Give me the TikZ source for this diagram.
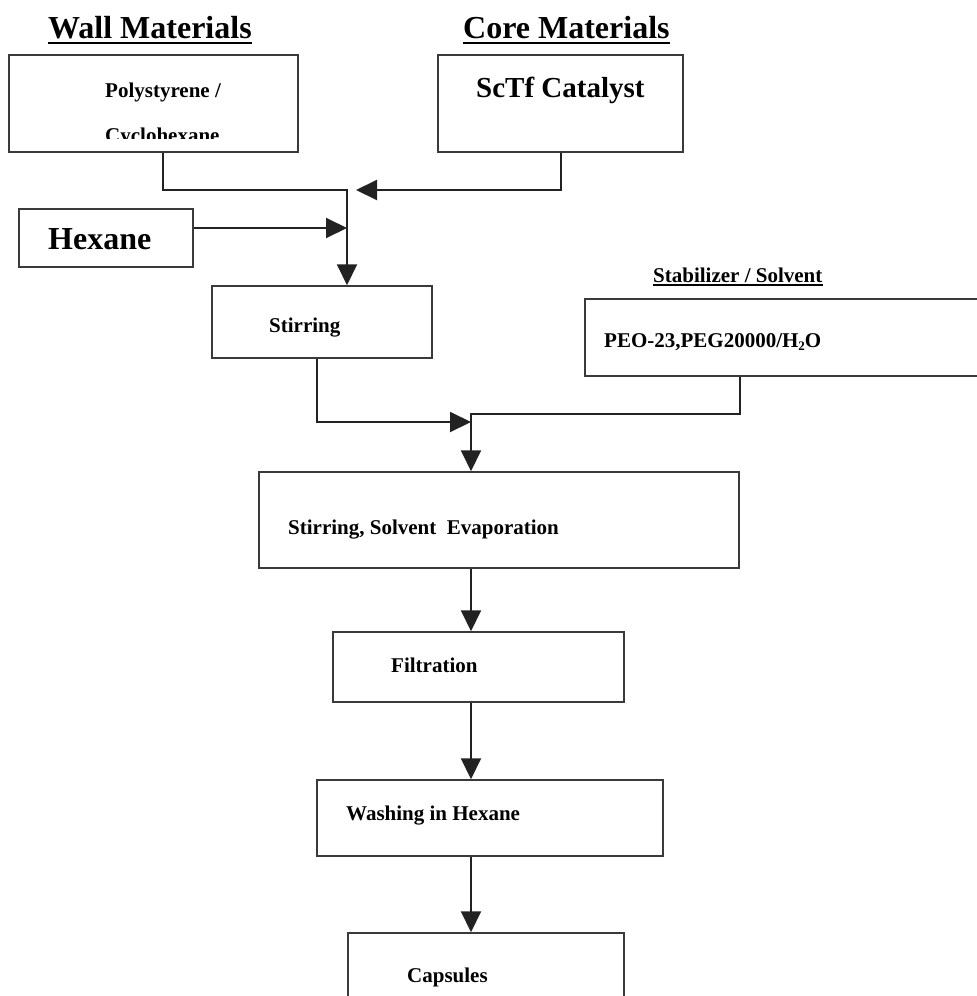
\documentclass[tikz,border=0pt]{standalone}
\usepackage{fontspec}
\setmainfont{Liberation Serif}
\usetikzlibrary{arrows.meta,calc}
\definecolor{boxgray}{HTML}{3A3A3A}
\definecolor{linegray}{HTML}{222222}
\begin{document}
\begin{tikzpicture}[x=1pt,y=-1pt,
  box/.style={draw=boxgray, line width=1.5pt, rectangle, inner sep=0pt},
  lbl/.style={inner sep=0pt, anchor=base west, font=\bfseries\fontsize{21}{25}\selectfont},
  ttl/.style={inner sep=0pt, anchor=base west, font=\bfseries\fontsize{32}{38}\selectfont},
  conn/.style={draw=linegray, line width=2pt},
  arr/.style={conn, -{Triangle[length=21pt,width=20pt]}},
  uline/.style={draw=black, line width=2.4pt},
]
\clip (0,0) rectangle (977,996);
\fill[white] (0,0) rectangle (977,996);

% titles
\node[ttl] (wallt) at (48,38) {Wall Materials};
\draw[uline] ([yshift=-5pt]wallt.base west) -- ([yshift=-5pt]wallt.base east);
\node[ttl] (coret) at (463,38) {Core Materials};
\draw[uline] ([yshift=-5pt]coret.base west) -- ([yshift=-5pt]coret.base east);

% boxes
\node[box, minimum width=289pt, minimum height=97pt] (poly) at (153.5,103.5) {};
\node[box, minimum width=245pt, minimum height=97pt] (sctf) at (560.5,103.5) {};
\node[box, minimum width=174pt, minimum height=58pt] (hex) at (106,238) {};
\node[box, minimum width=220pt, minimum height=72pt] (stir) at (322,322) {};
\node[box, minimum width=405pt, minimum height=77pt] (peo) at (787.5,337.5) {};
\node[box, minimum width=480pt, minimum height=96pt] (evap) at (499,520) {};
\node[box, minimum width=291pt, minimum height=70pt] (filt) at (478.5,667) {};
\node[box, minimum width=346pt, minimum height=76pt] (wash) at (490,818) {};
\node[box, minimum width=276pt, minimum height=76pt] (caps) at (486,971) {};

% texts
\node[lbl] (polyt) at (105,97) {Polystyrene /};
\begin{scope}
  \clip (0,0) rectangle (977,138.5);
  \node[lbl] (cyclo) at (105,142) {Cyclohexane};
\end{scope}
\node[inner sep=0pt, anchor=base west, font=\bfseries\fontsize{29}{34}\selectfont] (sctft) at (476,97) {ScTf Catalyst};
\node[ttl] (hext) at (48,249) {Hexane};
\node[lbl] (stirt) at (269,332) {Stirring};
\node[lbl] (stabt) at (653,282) {Stabilizer / Solvent};
\draw[draw=black, line width=1.4pt] ([yshift=-3pt]stabt.base west) -- ([yshift=-3pt]stabt.base east);
\node[lbl] (peot) at (604,347) {PEO-23,PEG20000/H\raisebox{-3pt}{\fontsize{13}{15}\selectfont 2}O};
\node[lbl] (evapt) at (288,534) {Stirring, Solvent\ \ Evaporation};
\node[lbl] (filtt) at (391,672) {Filtration};
\node[lbl] (washt) at (346,820) {Washing in Hexane};
\node[lbl] (capst) at (407,982) {Capsules};

% junction coordinates
\coordinate (j1) at (347,190);
\coordinate (c1) at (356,190);
\coordinate (j2) at (471,422);
\coordinate (j3) at (471,414);

% connectors
\draw[arr] ([xshift=9.5pt]poly.south) |- (j1) -- (stir.north -| j1);
\draw[arr] (sctf.south) |- (c1);
\draw[arr] ([yshift=10pt]hex.east) -- ([yshift=10pt]hex.east -| j1);
\draw[arr] ([xshift=-5pt]stir.south) |- (j2);
\draw[arr] ([xshift=-47.5pt]peo.south) |- (j3) -- (evap.north -| j3);
\draw[arr] (evap.south -| j3) -- (filt.north -| j3);
\draw[arr] (filt.south -| j3) -- (wash.north -| j3);
\draw[arr] (wash.south -| j3) -- (caps.north -| j3);
\end{tikzpicture}
\end{document}
